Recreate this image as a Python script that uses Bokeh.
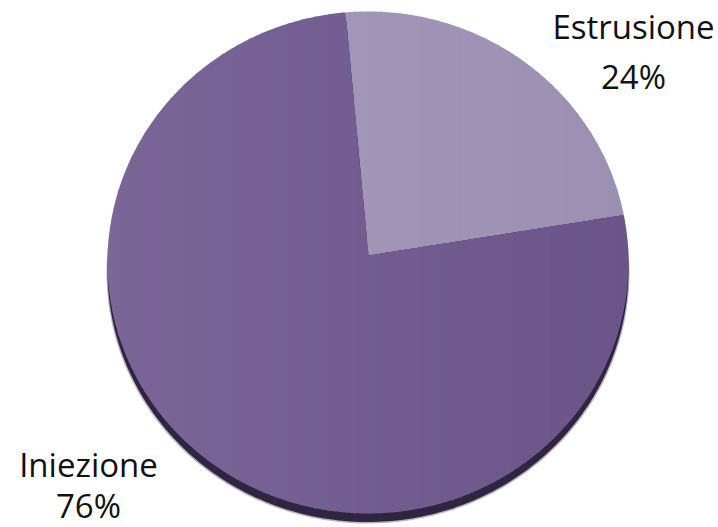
import numpy as np
from bokeh.plotting import figure
from bokeh.models import Range1d
from bokeh.core.properties import value
from bokeh.embed import file_html
from bokeh.resources import INLINE

# ---- data ----
categories = ["Estrusione", "Iniezione"]
shares = [24, 76]
pct_labels = ["24%", "76%"]

# ---- styles / geometry (screen-pixel space) ----
CX, CY = 367.5, 262.0
RX, RY = 260.5, 251.0
VX, VY = 368.0, 255.0
START_DEG = 95.4
slice_colors = [("#a69bbd", "#9b8fb2"), ("#7b6698", "#6a5488")]
shadow_color = "#2f2442"

W, H = 718, 527
p = figure(width=W, height=H, x_range=Range1d(0, W), y_range=Range1d(H, 0),
           output_backend="svg", toolbar_location=None, min_border=0)
p.axis.visible = False
p.grid.visible = False
p.outline_line_color = None
p.background_fill_color = "white"
p.border_fill_color = "white"


def ray_point(theta_deg):
    t = np.radians(theta_deg)
    dx, dy = np.cos(t), -np.sin(t)
    ox, oy = VX - CX, VY - CY
    a = (dx / RX) ** 2 + (dy / RY) ** 2
    b = 2 * (ox * dx / RX ** 2 + oy * dy / RY ** 2)
    c = (ox / RX) ** 2 + (oy / RY) ** 2 - 1
    s = (-b + np.sqrt(b * b - 4 * a * c)) / (2 * a)
    return VX + s * dx, VY + s * dy


def clip_half(poly, x_lim, keep_greater):
    out = []
    n = len(poly)
    for i in range(n):
        cur = poly[i]
        prev = poly[i - 1]
        cin = cur[0] >= x_lim if keep_greater else cur[0] <= x_lim
        pin = prev[0] >= x_lim if keep_greater else prev[0] <= x_lim
        if cin:
            if not pin:
                t = (x_lim - prev[0]) / (cur[0] - prev[0])
                out.append((x_lim, prev[1] + t * (cur[1] - prev[1])))
            out.append(cur)
        elif pin:
            t = (x_lim - prev[0]) / (cur[0] - prev[0])
            out.append((x_lim, prev[1] + t * (cur[1] - prev[1])))
    return out


def mix(c1, c2, f):
    a = [int(c1[i:i + 2], 16) for i in (1, 3, 5)]
    b = [int(c2[i:i + 2], 16) for i in (1, 3, 5)]
    return "#%02x%02x%02x" % tuple(int(round(a[k] + (b[k] - a[k]) * f)) for k in range(3))


# shadow
ang = np.linspace(0, 2 * np.pi, 300)
p.patch(CX + (RX + 1) * np.cos(ang), CY + 10 + RY * np.sin(ang),
        fill_color=shadow_color, fill_alpha=0.35, line_color=None)
p.patch(CX + RX * np.cos(ang), CY + 8.5 + RY * np.sin(ang),
        fill_color=shadow_color, line_color=None)

# slices (drawn in vertical strips to mimic the horizontal gradient)
total = float(sum(shares))
a0 = START_DEG
for cat, sh, (c_left, c_right) in zip(categories, shares, slice_colors):
    span = 360.0 * sh / total
    a1 = a0 - span
    thetas = np.linspace(a0, a1, max(int(span * 2), 10))
    poly = [(VX, VY)] + [ray_point(t) for t in thetas]
    xs_min = CX - RX - 2
    xs_max = CX + RX + 2
    nstrip = 40
    edges = np.linspace(xs_min, xs_max, nstrip + 1)
    for i in range(nstrip):
        piece = clip_half(poly, edges[i] - 0.7, True)
        if len(piece) < 3:
            continue
        piece = clip_half(piece, edges[i + 1] + 0.7, False)
        if len(piece) < 3:
            continue
        col = mix(c_left, c_right, (i + 0.5) / nstrip)
        p.patch([q[0] for q in piece], [q[1] for q in piece],
                fill_color=col, line_color=None)
    a0 = a1

# labels
lab_x = [633, 88]
name_y = [26, 464]
pct_y = [76, 505]
font = value("Open Sans")
p.text(x=lab_x, y=name_y, text=categories, text_font=font, text_font_size="33px",
       text_align="center", text_baseline="alphabetic", text_color="#111111")
p.text(x=lab_x, y=pct_y, text=pct_labels, text_font=font, text_font_size="33px",
       text_align="center", text_baseline="alphabetic", text_color="#111111")

open("out.html", "w").write(file_html(p, INLINE))
